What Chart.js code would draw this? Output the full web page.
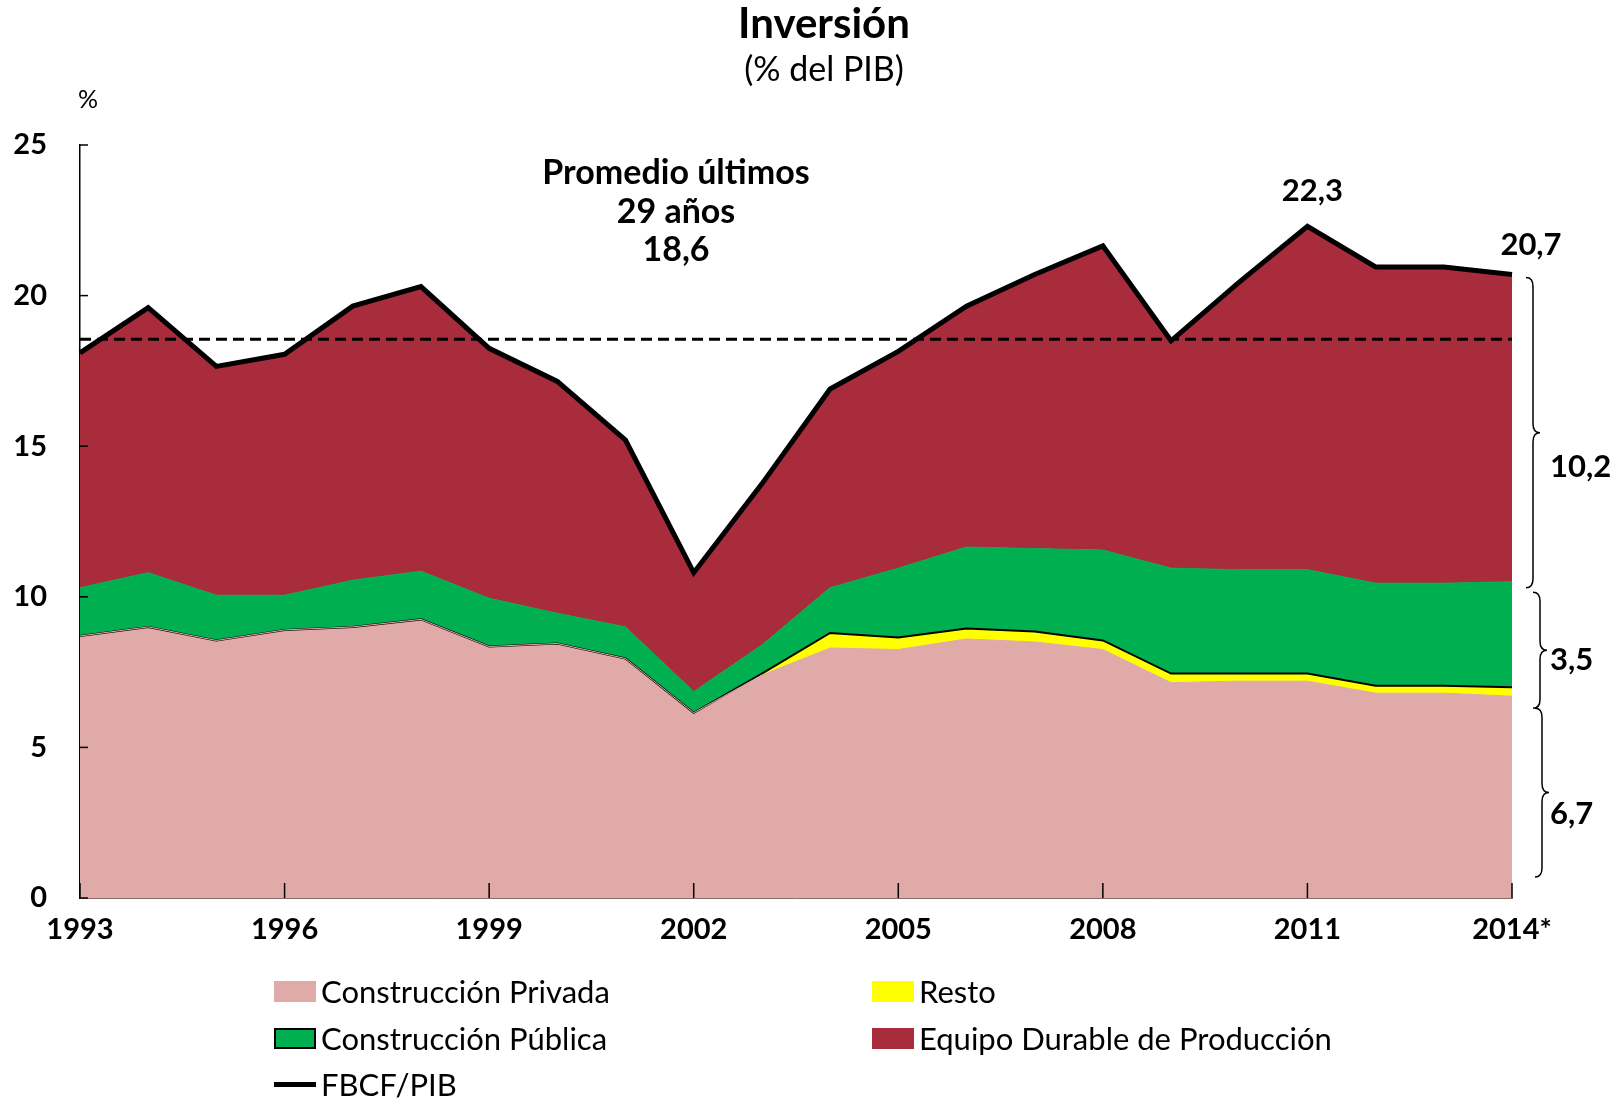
<!DOCTYPE html>
<html lang="es">
<head>
<meta charset="utf-8">
<title>Inversión</title>
<script src="https://cdn.jsdelivr.net/npm/chart.js@4.4.1/dist/chart.umd.min.js"></script>
<style>
  html, body { margin: 0; padding: 0; background: #fff; }
  #wrap { position: relative; width: 1622px; height: 1101px; font-family: Lato, sans-serif; }
  #grafico { position: absolute; left: 0; top: 0; }
  .ley { position: absolute; height: 36px; display: flex; align-items: center; font-size: 31px; color: #000; white-space: nowrap; }
  .ley .caja { width: 42px; height: 21px; margin-right: 5px; box-sizing: border-box; }
  .ley .linea { width: 42px; height: 5px; margin-right: 5px; background: #000; }
</style>
</head>
<body>
<div id="wrap">
  <canvas id="grafico" width="1622" height="1101"></canvas>
</div>
<script>
const anios = ['1993', '1994', '1995', '1996', '1997', '1998', '1999', '2000', '2001', '2002', '2003',
  '2004', '2005', '2006', '2007', '2008', '2009', '2010', '2011', '2012', '2013', '2014*'];
const construccionPrivada = [8.7, 9.0, 8.55, 8.9, 9.0, 9.25, 8.35, 8.45, 7.95, 6.15, 7.4,
  8.3, 8.25, 8.6, 8.5, 8.25, 7.15, 7.2, 7.2, 6.8, 6.8, 6.7];
const resto = [0, 0, 0, 0, 0, 0, 0, 0, 0, 0, 0.05,
  0.5, 0.4, 0.35, 0.35, 0.3, 0.3, 0.25, 0.25, 0.25, 0.25, 0.3];
const construccionPublica = [1.6, 1.8, 1.5, 1.15, 1.55, 1.6, 1.6, 1.0, 1.05, 0.7, 0.95,
  1.5, 2.3, 2.7, 2.75, 3.0, 3.5, 3.45, 3.45, 3.4, 3.4, 3.5];
const equipoDurable = [7.8, 8.8, 7.6, 8.0, 9.1, 9.45, 8.3, 7.7, 6.2, 3.95, 5.35,
  6.6, 7.2, 8.0, 9.1, 10.1, 7.55, 9.55, 11.4, 10.5, 10.5, 10.2];
const fbcfPib = [18.1, 19.6, 17.65, 18.05, 19.65, 20.3, 18.25, 17.15, 15.2, 10.8, 13.75,
  16.9, 18.15, 19.65, 20.7, 21.65, 18.5, 20.45, 22.3, 20.95, 20.95, 20.7];
const promedio = 18.55;

const ROSA = '#E0AAA9', AMARILLO = '#FFFF00', VERDE = '#00B050', GRANATE = '#A82C3C';
const FUENTE = 'Lato, sans-serif';

// llaves a la derecha: tramo en el eje y, y posicion del texto
const llaves = [
  { desde: 20.6, hasta: 10.3, x: 1526, texto: '10,2', yTexto: 14.3 },
  { desde: 10.15, hasta: 6.3, x: 1533, texto: '3,5', yTexto: 7.9 },
  { desde: 6.3, hasta: 0.7, x: 1535, texto: '6,7', yTexto: 2.8 }
];

function dibujarLlave(ctx, x, yTop, yBot, w) {
  const ym = (yTop + yBot) / 2;
  const r = 9;
  ctx.beginPath();
  ctx.moveTo(x, yTop);
  ctx.quadraticCurveTo(x + w / 2, yTop, x + w / 2, yTop + r);
  ctx.lineTo(x + w / 2, ym - r);
  ctx.quadraticCurveTo(x + w / 2, ym, x + w, ym);
  ctx.quadraticCurveTo(x + w / 2, ym, x + w / 2, ym + r);
  ctx.lineTo(x + w / 2, yBot - r);
  ctx.quadraticCurveTo(x + w / 2, yBot, x, yBot);
  ctx.stroke();
}

const anotaciones = {
  id: 'anotaciones',
  beforeDatasetDraw(chart, args) {
    // la linea de promedio va encima de las areas y debajo de la FBCF
    if (chart.data.datasets[args.index].label !== 'FBCF/PIB') return;
    const { ctx, chartArea, scales: { y } } = chart;
    ctx.save();
    ctx.strokeStyle = '#000';
    ctx.lineWidth = 3;
    ctx.setLineDash([11, 6]);
    ctx.beginPath();
    ctx.moveTo(chartArea.left, y.getPixelForValue(promedio));
    ctx.lineTo(chartArea.right, y.getPixelForValue(promedio));
    ctx.stroke();
    ctx.restore();
  },
  afterDraw(chart) {
    const { ctx, chartArea, scales: { x, y } } = chart;
    ctx.save();
    ctx.fillStyle = '#000';
    ctx.strokeStyle = '#000';
    ctx.textAlign = 'center';
    ctx.textBaseline = 'middle';

    // marcas de los ejes, hacia adentro
    ctx.lineWidth = 1.5;
    y.ticks.forEach(t => {
      const py = y.getPixelForValue(t.value);
      ctx.beginPath();
      ctx.moveTo(chartArea.left, py);
      ctx.lineTo(chartArea.left + 8, py);
      ctx.stroke();
    });
    anios.forEach((a, i) => {
      if (i % 3 !== 0) return;
      const px = x.getPixelForValue(i);
      ctx.beginPath();
      ctx.moveTo(px, chartArea.bottom);
      ctx.lineTo(px, chartArea.bottom - 15);
      ctx.stroke();
    });

    // titulo
    ctx.font = 'bold 42px ' + FUENTE;
    ctx.fillText('Inversión', 824, 24);
    ctx.font = '34px ' + FUENTE;
    ctx.fillText('(% del PIB)', 824, 70);
    ctx.font = '25px ' + FUENTE;
    ctx.fillText('%', 88, 100);

    // texto del promedio
    ctx.font = 'bold 34px ' + FUENTE;
    ctx.fillText('Promedio últimos', 676, 173);
    ctx.fillText('29 años', 676, 212);
    ctx.fillText('18,6', 676, 250);

    // maximo y ultimo dato
    ctx.font = 'bold 31px ' + FUENTE;
    const iMax = fbcfPib.indexOf(Math.max(...fbcfPib));
    ctx.fillText('22,3', x.getPixelForValue(iMax) + 5, y.getPixelForValue(fbcfPib[iMax]) - 35);
    const iUlt = fbcfPib.length - 1;
    ctx.fillText('20,7', x.getPixelForValue(iUlt) + 19, y.getPixelForValue(fbcfPib[iUlt]) - 30);

    // llaves
    ctx.lineWidth = 1.5;
    ctx.textAlign = 'left';
    llaves.forEach(l => {
      dibujarLlave(ctx, l.x, y.getPixelForValue(l.desde), y.getPixelForValue(l.hasta), 14);
      ctx.fillText(l.texto, 1550, y.getPixelForValue(l.yTexto));
    });
    ctx.restore();
  }
};

const ctx = document.getElementById('grafico').getContext('2d');
const chart = new Chart(ctx, {
  type: 'line',
  data: {
    labels: anios,
    datasets: [
      { label: 'Construcción Privada', data: construccionPrivada, stack: 'componentes',
        backgroundColor: ROSA, borderColor: ROSA, borderWidth: 1, fill: 'origin' },
      { label: 'Resto', data: resto, stack: 'componentes',
        backgroundColor: AMARILLO, borderColor: '#000', borderWidth: 2, fill: '-1' },
      { label: 'Construcción Pública', data: construccionPublica, stack: 'componentes',
        backgroundColor: VERDE, borderColor: VERDE, borderWidth: 1, fill: '-1' },
      { label: 'Equipo Durable de Producción', data: equipoDurable, stack: 'componentes',
        backgroundColor: GRANATE, borderColor: GRANATE, borderWidth: 0, fill: '-1' },
      { label: 'FBCF/PIB', data: fbcfPib, stack: 'total', order: -1,
        borderColor: '#000', borderWidth: 5, fill: false, borderJoinStyle: 'miter' }
    ]
  },
  options: {
    responsive: false,
    animation: false,
    layout: { padding: { top: 145, right: 110, bottom: 143, left: 0 } },
    elements: { point: { radius: 0 }, line: { tension: 0 } },
    plugins: {
      legend: { display: false },
      tooltip: { enabled: false },
      filler: { drawTime: 'beforeDatasetsDraw' }
    },
    scales: {
      x: {
        grid: { display: false, drawTicks: false },
        border: { display: true, color: '#8a6a6a', width: 1 },
        afterFit: s => { s.height = 60; },
        ticks: {
          autoSkip: false, maxRotation: 0, padding: 14, color: '#000',
          font: { family: FUENTE, size: 29, weight: 'bold' },
          callback: (v, i) => (i % 3 === 0 ? anios[i] : '')
        }
      },
      y: {
        stacked: true,
        min: 0, max: 25,
        grid: { display: false, drawTicks: false },
        border: { display: true, color: '#000', width: 1.5 },
        afterFit: s => { s.width = 80; },
        ticks: {
          stepSize: 5, padding: 33, color: '#000',
          font: { family: FUENTE, size: 29, weight: 'bold' }
        }
      }
    }
  },
  plugins: [anotaciones]
});

// leyenda en dos columnas
const wrap = document.getElementById('wrap');
const posiciones = [[274, 991], [872, 991], [274, 1038], [872, 1038], [274, 1084]];
chart.data.datasets.forEach((ds, k) => {
  const item = document.createElement('div');
  item.className = 'ley';
  item.style.left = posiciones[k][0] + 'px';
  item.style.top = (posiciones[k][1] - 18) + 'px';
  const marca = document.createElement('span');
  if (ds.fill === false) {
    marca.className = 'linea';
  } else {
    marca.className = 'caja';
    marca.style.background = ds.backgroundColor;
    if (ds.label === 'Construcción Pública') marca.style.border = '2px solid #000';
  }
  item.appendChild(marca);
  item.appendChild(document.createTextNode(ds.label));
  wrap.appendChild(item);
});
</script>
</body>
</html>
